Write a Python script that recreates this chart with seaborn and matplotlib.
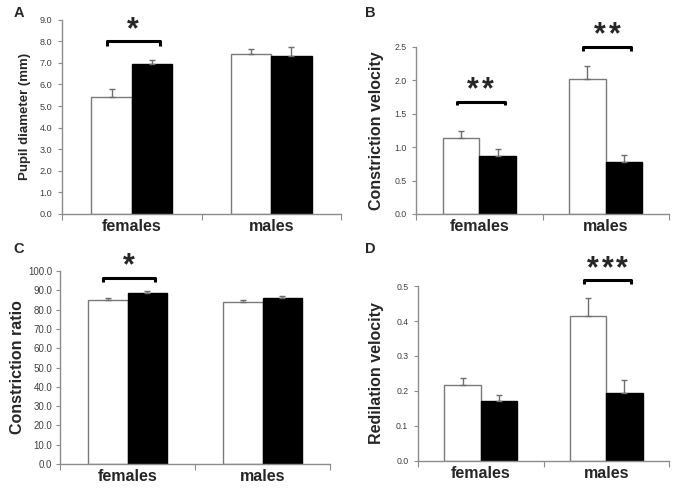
import numpy as np
import pandas as pd
import matplotlib.pyplot as plt
import seaborn as sns

sns.set_style("ticks")
plt.rcParams['font.family'] = ['Liberation Sans', 'DejaVu Sans']

sexes = ["females", "males"]
groups = ["white", "black"]

# Panel A: pupil diameter (mm)
pupil_white = [5.42, 7.41]
pupil_black = [6.93, 7.32]
pupil_white_err = [0.36, 0.23]
pupil_black_err = [0.21, 0.43]

# Panel B: constriction velocity
cvel_white = [1.14, 2.02]
cvel_black = [0.87, 0.775]
cvel_white_err = [0.10, 0.19]
cvel_black_err = [0.095, 0.10]

# Panel C: constriction ratio
cratio_white = [85.2, 84.0]
cratio_black = [88.7, 86.3]
cratio_white_err = [0.7, 1.1]
cratio_black_err = [0.9, 0.9]

# Panel D: redilation velocity
rvel_white = [0.216, 0.413]
rvel_black = [0.171, 0.195]
rvel_white_err = [0.020, 0.052]
rvel_black_err = [0.016, 0.035]

# significance brackets: (category index, bracket height, label)
pupil_sig = [(0, 8.0, "*")]
cvel_sig = [(0, 1.68, "**"), (1, 2.5, "**")]
cratio_sig = [(0, 96.4, "*")]
rvel_sig = [(1, 0.516, "***")]

panels = [
    # letter, ylabel, white, black, werr, berr, sig, ymax, step, axes rect, ylabel size, labelpad, tick pad, tick size
    ("A", "Pupil diameter (mm)", pupil_white, pupil_black, pupil_white_err, pupil_black_err,
     pupil_sig, 9.0, 1.0, [0.091, 0.567, 0.409, 0.393], 9.5, 6, 4, 6.6),
    ("B", "Constriction velocity", cvel_white, cvel_black, cvel_white_err, cvel_black_err,
     cvel_sig, 2.5, 0.5, [0.610, 0.567, 0.371, 0.338], 11.5, 7, 4, 6.3),
    ("C", "Constriction ratio", cratio_white, cratio_black, cratio_white_err, cratio_black_err,
     cratio_sig, 100.0, 10.0, [0.088, 0.061, 0.396, 0.390], 11.5, 2, 2.5, 7.0),
    ("D", "Redilation velocity", rvel_white, rvel_black, rvel_white_err, rvel_black_err,
     rvel_sig, 0.5, 0.1, [0.613, 0.067, 0.368, 0.354], 11.5, 9, 4, 6.3),
]

letter_pos = {"A": (14, 13), "B": (365, 13), "C": (13, 249), "D": (365, 249)}

fig = plt.figure(figsize=(6.82, 4.94), dpi=100)
spine_col = "#8c8c8c"

for (letter, ylab, white, black, werr, berr, sig, ymax, step, rect,
     ysize, lpad, tpad, tsize) in panels:
    ax = fig.add_axes(rect)
    df = pd.DataFrame({
        "sex": sexes * 2,
        "group": [groups[0]] * 2 + [groups[1]] * 2,
        "value": list(white) + list(black),
    })
    sns.barplot(data=df, x="sex", y="value", hue="group", hue_order=groups,
                palette=["white", "black"], width=0.58, gap=0, errorbar=None,
                legend=False, ax=ax)

    # edges and one-sided error bars
    for cont, errs, ec in zip(ax.containers, [werr, berr], ["#7a7a7a", "black"]):
        for bar, e in zip(cont, errs):
            bar.set_edgecolor(ec)
            bar.set_linewidth(1.0)
            xc = bar.get_x() + bar.get_width() / 2
            ax.errorbar(xc, bar.get_height(), yerr=[[0], [e]], fmt="none",
                        ecolor="#6e6e6e", elinewidth=1.0, capsize=2.5, capthick=1.0)

    # significance brackets, stars spaced a bit wider than the font does
    drop = ymax * 0.022
    for ci, yb, lab in sig:
        x0, x1 = ci - 0.18, ci + 0.20
        ax.plot([x0, x0, x1, x1], [yb - drop, yb, yb, yb - drop], color="black",
                lw=2.2, solid_capstyle="butt", clip_on=False)
        n = len(lab)
        for i in range(n):
            ax.annotate("*", xy=((x0 + x1) / 2, yb),
                        xytext=((i - (n - 1) / 2) * 10.5, 2.5),
                        textcoords="offset points", ha="center", va="baseline",
                        fontsize=22, fontweight="bold", annotation_clip=False)

    ax.set_xlim(-0.5, 1.5)
    ax.set_ylim(0, ymax)
    ax.set_yticks(np.arange(0, ymax + step / 2, step))
    ax.set_yticklabels([f"{v:.1f}" for v in np.arange(0, ymax + step / 2, step)])
    ax.set_xlabel("")
    ax.set_ylabel(ylab, fontsize=ysize, fontweight="bold", labelpad=lpad)

    ax.tick_params(axis="y", direction="out", length=3, width=0.8, color=spine_col,
                   labelsize=tsize, labelcolor="#404040", pad=tpad)
    ax.tick_params(axis="x", which="major", length=0, pad=4, labelsize=11.5)
    for t in ax.get_xticklabels():
        t.set_fontweight("bold")
    ax.set_xticks([-0.5, 0.5, 1.5], minor=True)
    ax.tick_params(axis="x", which="minor", direction="out", length=4, width=0.8,
                   color=spine_col)

    sns.despine(ax=ax)
    for s in ["left", "bottom"]:
        ax.spines[s].set_color(spine_col)
        ax.spines[s].set_linewidth(1.0)

    px, py = letter_pos[letter]
    fig.text(px / 682, 1 - py / 494, letter, fontsize=10.5, fontweight="bold",
             ha="left", va="center")

fig.savefig("out.png", dpi=100)
